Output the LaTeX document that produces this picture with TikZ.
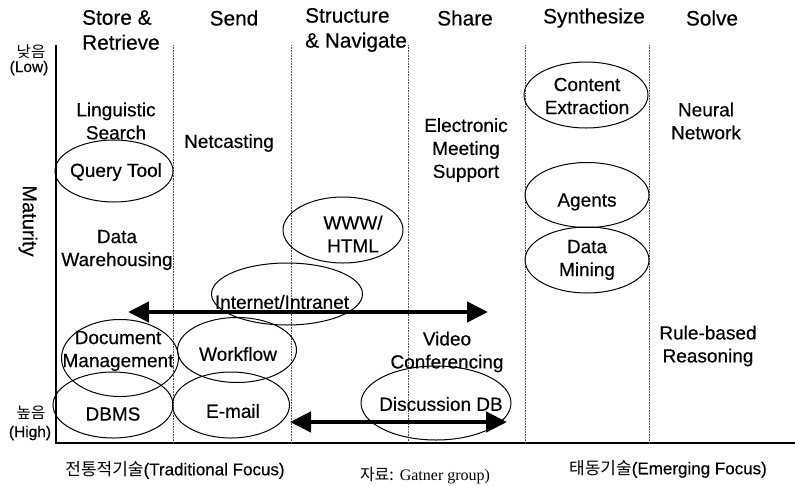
\documentclass[tikz,border=0pt]{standalone}
\usepackage{fontspec}
\setmainfont{Liberation Sans}[FakeBold=0.4]
\newfontfamily\krfont{Noto Sans CJK KR}
\newfontfamily\tmfont{Liberation Serif}
\usetikzlibrary{shapes.geometric,arrows.meta}
\begin{document}
\begin{tikzpicture}[x=1pt,y=-1pt,
  hdr/.style={font=\fontsize{20.8}{25}\selectfont, inner sep=0},
  lbl/.style={font=\fontsize{19}{23}\selectfont, align=center, inner sep=0},
  side/.style={font=\fontsize{15.5}{16}\selectfont, inner sep=0},
  foot/.style={font=\fontsize{17}{18}\selectfont, inner sep=0},
  oval/.style={draw, ellipse, line width=1pt, inner sep=0},
  colsep/.style={densely dotted, line width=0.6pt, black!70},
  axisline/.style={line width=1.6pt},
  bigarrow/.style={line width=4.5pt, {Triangle[length=21pt,width=20pt]}-{Triangle[length=21pt,width=20pt]}}]
\useasboundingbox (0,0) rectangle (795,485);

% axes
\coordinate (axtop) at (56,45);
\coordinate (axorig) at (56,443);
\coordinate (axend) at (795,443);
\draw[axisline] (axtop) -- (axorig) -- (axend);

% column separators
\foreach \cx in {173,291,408,525,649}
  \draw[colsep] (\cx,45) -- (\cx,443);

% headers
\node[hdr, align=left, anchor=west] (h1) at (82,30) {Store \&\\Retrieve};
\node[hdr] (h2) at (234,18) {Send};
\node[hdr, align=left, anchor=west] (h3) at (305,30) {Structure\\\& Navigate};
\node[hdr] (h4) at (465,18) {Share};
\node[hdr] (h5) at (594,18) {Synthesize};
\node[hdr] (h6) at (712,18) {Solve};

% left side labels
\node[side] (low1) at (31,52) {\krfont 낮음};
\node[side] (low2) at (29,68) {(Low)};
\node[font=\fontsize{20}{22}\selectfont, rotate=-90, inner sep=0] (mat) at (28,221) {Maturity};
\node[side] (high1) at (31,413) {\krfont 높음};
\node[side] (high2) at (30,433) {(High)};

% ellipses
\node[oval, minimum width=118pt, minimum height=62pt] (qt) at (114,171) {};
\node[oval, minimum width=120pt, minimum height=66pt] (www) at (343,230) {};
\node[oval, minimum width=151pt, minimum height=62pt] (inet) at (287,294) {};
\node[oval, minimum width=124pt, minimum height=66pt] (ce) at (586,95) {};
\node[oval, minimum width=124pt, minimum height=65pt] (ag) at (587,195) {};
\node[oval, minimum width=124pt, minimum height=66pt] (dm) at (587,260) {};
\node[oval, minimum width=117pt, minimum height=77pt] (doc) at (120,358) {};
\node[oval, minimum width=120pt, minimum height=66pt] (dbms) at (113,405) {};
\node[oval, minimum width=119pt, minimum height=65pt] (wf) at (237,350) {};
\node[oval, minimum width=117pt, minimum height=66pt] (em) at (231,405) {};
\node[oval, minimum width=150pt, minimum height=74pt] (disc) at (436,403) {};

% texts
\node[lbl] (ling) at (116,121) {Linguistic\\Search};
\node[lbl] (qtt) at (116,172) {Query Tool};
\node[lbl] (net) at (229,143) {Netcasting};
\node[lbl] (dw) at (117,250) {Data\\Warehousing};
\node[lbl] (wwwt) at (353,234) {WWW/\\HTML};
\node[lbl] (inett) at (282,302) {Internet/Intranet};
\node[lbl] (ems) at (466,150) {Electronic\\Meeting\\Support};
\node[lbl] (cet) at (587,96) {Content\\Extraction};
\node[lbl] (agt) at (587,202) {Agents};
\node[lbl] (dmt) at (587,260) {Data\\Mining};
\node[lbl] (nn) at (706,121) {Neural\\Network};
\node[lbl] (doct) at (118,351) {Document\\Management};
\node[lbl] (wft) at (238,354) {Workflow};
\node[lbl] (vc) at (447,352) {Video\\Conferencing};
\node[lbl] (rbr) at (708,346) {Rule-based\\Reasoning};
\node[lbl] (dbmst) at (113,414) {DBMS};
\node[lbl] (emt) at (233,411) {E-mail};
\node[lbl] (disct) at (441,404) {Discussion DB};

% arrows
\coordinate (ia1) at (128,312);
\coordinate (ia2) at (488,312);
\draw[bigarrow] (ia1) -- (ia2);
\coordinate (da1) at (290,422);
\coordinate (da2) at (507,422);
\draw[bigarrow] (da1) -- (da2);

% footer
\node[foot] (trad) at (175,470) {{\krfont 전통적기술}(Traditional Focus)};
\node[font=\fontsize{16}{18}\selectfont, inner sep=0] (src) at (425,476) {{\krfont 자료:} {\tmfont Gatner group)}};
\node[foot] (emer) at (668,469) {{\krfont 태동기술}(Emerging Focus)};
\end{tikzpicture}
\end{document}
